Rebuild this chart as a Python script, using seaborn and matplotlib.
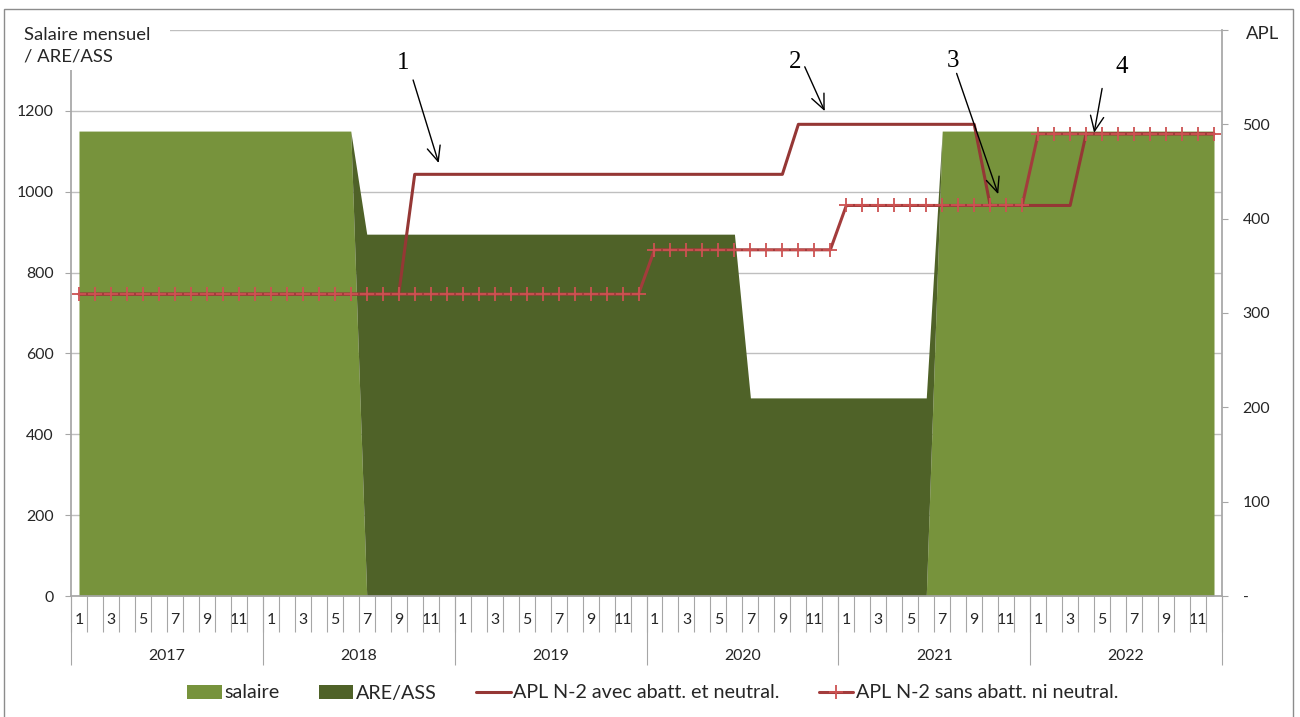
import numpy as np
import pandas as pd
import seaborn as sns
import matplotlib.pyplot as plt
from matplotlib.patches import Patch, Rectangle
from matplotlib.lines import Line2D

years = ["2017", "2018", "2019", "2020", "2021", "2022"]
month_labels = ["1", "", "3", "", "5", "", "7", "", "9", "", "11", ""]

# one row per year, months 1..12
salaire = [
    1150, 1150, 1150, 1150, 1150, 1150, 1150, 1150, 1150, 1150, 1150, 1150,
    1150, 1150, 1150, 1150, 1150, 1150, 0, 0, 0, 0, 0, 0,
    0, 0, 0, 0, 0, 0, 0, 0, 0, 0, 0, 0,
    0, 0, 0, 0, 0, 0, 0, 0, 0, 0, 0, 0,
    0, 0, 0, 0, 0, 0, 1150, 1150, 1150, 1150, 1150, 1150,
    1150, 1150, 1150, 1150, 1150, 1150, 1150, 1150, 1150, 1150, 1150, 1150,
]
are_ass = [
    0, 0, 0, 0, 0, 0, 0, 0, 0, 0, 0, 0,
    0, 0, 0, 0, 0, 0, 895, 895, 895, 895, 895, 895,
    895, 895, 895, 895, 895, 895, 895, 895, 895, 895, 895, 895,
    895, 895, 895, 895, 895, 895, 490, 490, 490, 490, 490, 490,
    490, 490, 490, 490, 490, 490, 0, 0, 0, 0, 0, 0,
    0, 0, 0, 0, 0, 0, 0, 0, 0, 0, 0, 0,
]
apl_avec = [
    320, 320, 320, 320, 320, 320, 320, 320, 320, 320, 320, 320,
    320, 320, 320, 320, 320, 320, 320, 320, 320, 447, 447, 447,
    447, 447, 447, 447, 447, 447, 447, 447, 447, 447, 447, 447,
    447, 447, 447, 447, 447, 447, 447, 447, 447, 500, 500, 500,
    500, 500, 500, 500, 500, 500, 500, 500, 500, 414, 414, 414,
    414, 414, 414, 490, 490, 490, 490, 490, 490, 490, 490, 490,
]
apl_sans = [
    320, 320, 320, 320, 320, 320, 320, 320, 320, 320, 320, 320,
    320, 320, 320, 320, 320, 320, 320, 320, 320, 320, 320, 320,
    320, 320, 320, 320, 320, 320, 320, 320, 320, 320, 320, 320,
    367, 367, 367, 367, 367, 367, 367, 367, 367, 367, 367, 367,
    414, 414, 414, 414, 414, 414, 414, 414, 414, 414, 414, 414,
    490, 490, 490, 490, 490, 490, 490, 490, 490, 490, 490, 490,
]

left_ticks = [0, 200, 400, 600, 800, 1000, 1200, 1400]
left_labels = ["0", "200", "400", "600", "800", "1000", "1200", ""]
right_ticks = [0, 100, 200, 300, 400, 500, 600]
right_labels = ["-", "100", "200", "300", "400", "500", ""]

# callouts: label, label position, arrow tail, arrow tip (month index, APL)
notes = ["1", "2", "3", "4"]
note_pos = [(20.3, 565), (44.8, 566), (54.7, 567), (65.2, 561)]
note_tail = [(20.9, 547), (45.4, 561), (54.9, 554), (64.0, 538)]
note_tip = [(22.5, 459), (46.65, 514), (57.5, 426), (63.5, 491)]

c_sal = "#77933C"
c_are = "#4F6228"
c_avec = "#953735"
c_sans = "#A33C3C"
c_plus = "#CD5252"
grey = "#a6a6a6"
txt = "#262626"
fs = 11.4      # tick labels
fs_txt = 13.3  # axis titles
fs_leg = 14.2

sns.set_theme(style="white")
plt.rcParams["font.family"] = ["Lato", "DejaVu Sans"]

df = pd.DataFrame({
    "mois": np.arange(len(salaire)),
    "salaire": salaire,
    "are": are_ass,
    "avec": apl_avec,
    "sans": apl_sans,
})

fig = plt.figure(figsize=(13, 7.17), dpi=100)
ax = fig.add_axes([71 / 1300, 121 / 717, 1151 / 1300, 566 / 717])

ax.stackplot(df["mois"], df["salaire"], df["are"], colors=[c_sal, c_are], lw=0)
ax.set_ylim(0, 1400)
ax.set_yticks(left_ticks, left_labels)
ax.yaxis.grid(True, color="#bfbfbf", lw=1)
ax.set_axisbelow(True)
ax.tick_params(axis="y", length=4.3, width=0.8, color=grey, pad=8,
               labelsize=fs, labelcolor=txt, left=True)

ax2 = ax.twinx()
sns.lineplot(data=df, x="mois", y="avec", ax=ax2, color=c_avec, lw=2.2)
sns.lineplot(data=df, x="mois", y="sans", ax=ax2, color=c_sans, lw=2.2,
             marker="+", markersize=9.5, markeredgecolor=c_plus, markeredgewidth=1.3)
ax2.set_ylim(0, 600)
ax2.set_yticks(right_ticks, right_labels)
ax2.set_ylabel("")
ax2.tick_params(axis="y", length=4.3, width=0.8, color=grey, pad=10.5,
                labelsize=fs, labelcolor=txt, right=True)

# two-level category axis: months then years
n = len(df)
ax.set_xlim(-0.5, n - 0.5)
ax.set_xticks(df["mois"], [month_labels[i % 12] for i in range(n)])
ax.set_xticks(np.arange(-0.5, n, 1), minor=True)
ax.tick_params(axis="x", which="major", length=0, pad=12.5, labelsize=fs, labelcolor=txt)
ax.tick_params(axis="x", which="minor", length=26, width=0.8, color=grey, bottom=True)
ax.set_xlabel("")
ax2.set_xlabel("")

sec = ax.secondary_xaxis("bottom")
sec.set_xticks(np.arange(-0.5, n + 1, 12), [""] * 7)
sec.set_xticks(np.arange(5.5, n, 12), years, minor=True)
sec.tick_params(which="major", length=50, width=0.8, color=grey)
sec.tick_params(which="minor", length=0, pad=38, labelsize=fs, labelcolor=txt)
sec.spines["bottom"].set_visible(False)

for a in (ax, ax2):
    a.spines["top"].set_visible(False)
ax.spines["right"].set_visible(False)
ax2.spines["left"].set_visible(False)
ax2.spines["bottom"].set_visible(False)
ax.spines["left"].set_color(grey)
ax.spines["bottom"].set_color(grey)
ax2.spines["right"].set_color(grey)

for lab, p, t0, t1 in zip(notes, note_pos, note_tail, note_tip):
    ax2.text(p[0], p[1], lab, ha="center", va="center", fontsize=18,
             family="Liberation Serif", color="black")
    ax2.annotate("", xy=t1, xytext=t0,
                 arrowprops=dict(arrowstyle="->,head_length=0.9,head_width=0.4",
                                 lw=1, color="black", shrinkA=0, shrinkB=0))

# axis titles sit in white boxes like Excel
fig.add_artist(Rectangle((18 / 1300, 1 - 70 / 717), 152 / 1300, 52 / 717,
                         facecolor="white", edgecolor="none", zorder=2))
fig.text(24 / 1300, 1 - 27 / 717, "Salaire mensuel\n/ ARE/ASS", ha="left", va="top",
         fontsize=fs_txt, color=txt, linespacing=1.45, zorder=3)
fig.text(1246 / 1300, 1 - 34 / 717, "APL", ha="left", va="center",
         fontsize=fs_txt, color=txt, zorder=3)

handles = [
    Patch(facecolor=c_sal, edgecolor="none"),
    Patch(facecolor=c_are, edgecolor="none"),
    Line2D([], [], color=c_avec, lw=2.2),
    Line2D([], [], color=c_sans, lw=2.2, marker="+", markersize=9.5,
           markeredgecolor=c_plus, markeredgewidth=1.3),
]
labels = ["salaire", "ARE/ASS", "APL N-2 avec abatt. et neutral.",
          "APL N-2 sans abatt. ni neutral."]
fig.legend(handles, labels, loc="center", bbox_to_anchor=(0.502, 1 - 693 / 717),
           ncol=4, frameon=False, fontsize=fs_leg, handlelength=1.75, handleheight=0.7,
           handletextpad=0.12, columnspacing=2.0, labelcolor=txt)

fig.add_artist(Rectangle((4 / 1300, -0.02), 1289 / 1300, 1.02 - 9 / 717,
                         fill=False, edgecolor="#8c8c8c", lw=1, zorder=4))

fig.savefig("out.png", dpi=100)
